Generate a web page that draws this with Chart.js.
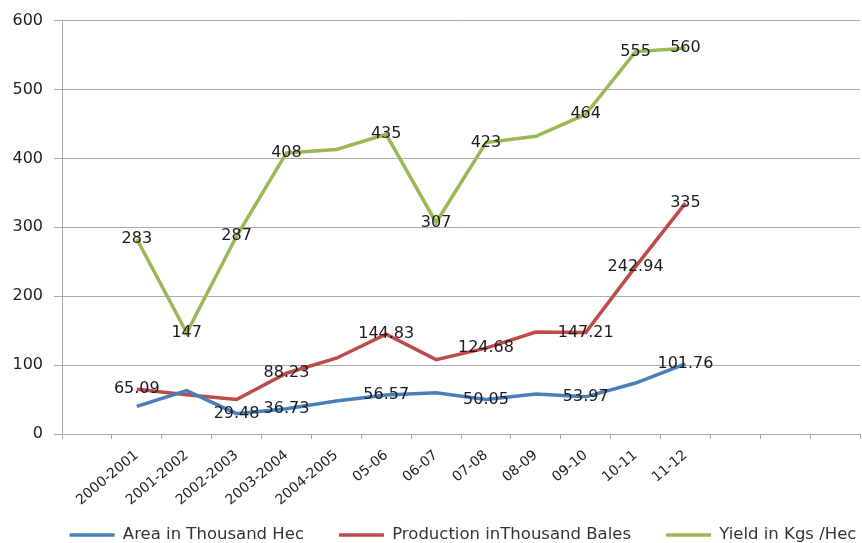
<!DOCTYPE html>
<html>
<head>
<meta charset="utf-8">
<script src="https://cdn.jsdelivr.net/npm/chart.js@4"></script>
<style>
  html, body { margin: 0; padding: 0; background: #fff; }
  #wrap { width: 862px; height: 543px; }
</style>
</head>
<body>
<div id="wrap"><canvas id="chart" width="862" height="543"></canvas></div>
<script>
// values
const categories = ['2000-2001','2001-2002','2002-2003','2003-2004','2004-2005','05-06','06-07','07-08','08-09','09-10','10-11','11-12'];
const areaVals  = [40, 63, 29.48, 36.73, 48, 56.57, 60, 50.05, 58, 53.97, 74, 101.76];
const prodVals  = [65.09, 57, 50, 88.23, 110, 144.83, 108, 124.68, 148, 147.21, 242.94, 335];
const yieldVals = [283, 147, 287, 408, 413, 435, 307, 423, 432, 464, 555, 560];
// which points carry a value label
const areaShown  = [0,0,1,1,0,1,0,1,0,1,0,1];
const prodShown  = [1,0,0,1,0,1,0,1,0,1,1,1];
const yieldShown = [1,1,1,1,0,1,1,1,0,1,1,1];
const yTicks = [0, 100, 200, 300, 400, 500, 600];

// axis has one empty slot before and three after the data
const pad = (arr, v) => [v, ...arr, v, v, v];
const axisLabels = pad(categories, '');

const gridCol = '#ababab';
const textCol = '#1e1e1e';

const pointLabels = {
  id: 'pointLabels',
  afterDatasetsDraw(chart) {
    const ctx = chart.ctx;
    ctx.save();
    ctx.font = '16px "DejaVu Sans"';
    ctx.fillStyle = '#1c1c1c';
    ctx.textAlign = 'center';
    ctx.textBaseline = 'middle';
    chart.data.datasets.forEach((ds, i) => {
      const meta = chart.getDatasetMeta(i);
      meta.data.forEach((pt, j) => {
        if (!ds.shown[j] || ds.data[j] == null) return;
        ctx.fillText(String(ds.data[j]), pt.x, pt.y);
      });
    });
    ctx.restore();
  }
};

// the original legend sits right of centre, close to the bottom edge
const legendShift = {
  id: 'legendShift',
  afterLayout(chart) {
    const l = chart.legend;
    const lab = l.options.labels;
    const dy = 535 - (l.top + lab.padding + lab.font.size / 2);
    l.top += dy; l.bottom += dy;
    l.left += 33; l.right += 33;
  }
};

new Chart(document.getElementById('chart'), {
  type: 'line',
  data: {
    labels: axisLabels,
    datasets: [
      { label: 'Area in Thousand Hec', data: pad(areaVals, null), shown: pad(areaShown, 0),
        borderColor: '#4a7ebb', backgroundColor: '#4a7ebb' },
      { label: 'Production inThousand Bales', data: pad(prodVals, null), shown: pad(prodShown, 0),
        borderColor: '#be4b48', backgroundColor: '#be4b48' },
      { label: 'Yield in Kgs /Hec', data: pad(yieldVals, null), shown: pad(yieldShown, 0),
        borderColor: '#98b954', backgroundColor: '#98b954' }
    ].map(d => Object.assign(d, { borderWidth: 3.5, pointRadius: 0, tension: 0, fill: false }))
  },
  options: {
    responsive: false,
    animation: false,
    layout: { padding: { top: 19, right: 2, left: 0, bottom: -27.5 } },
    plugins: {
      tooltip: { enabled: false },
      legend: {
        position: 'bottom',
        align: 'center',
        labels: {
          usePointStyle: true,
          pointStyle: 'line',
          pointStyleWidth: 45,
          padding: 35,
          color: '#333',
          font: { family: 'DejaVu Sans', size: 16.5 }
        }
      }
    },
    scales: {
      x: {
        offset: true,
        grid: { offset: true, drawOnChartArea: false, drawTicks: true, tickLength: 5, color: gridCol },
        border: { color: gridCol },
        ticks: { autoSkip: false, minRotation: 40, maxRotation: 40, padding: 8,
                 color: textCol, font: { family: 'DejaVu Sans', size: 14 } },
        afterFit(s) { s.height = 75; }
      },
      y: {
        min: 0, max: 600,
        afterBuildTicks(s) { s.ticks = yTicks.map(v => ({ value: v })); },
        grid: { color: gridCol, tickLength: 8 },
        border: { color: gridCol },
        ticks: { padding: 11, color: textCol, font: { family: 'DejaVu Sans', size: 16 } },
        afterFit(s) { s.width = 62; }
      }
    }
  },
  plugins: [pointLabels, legendShift]
});
</script>
</body>
</html>
